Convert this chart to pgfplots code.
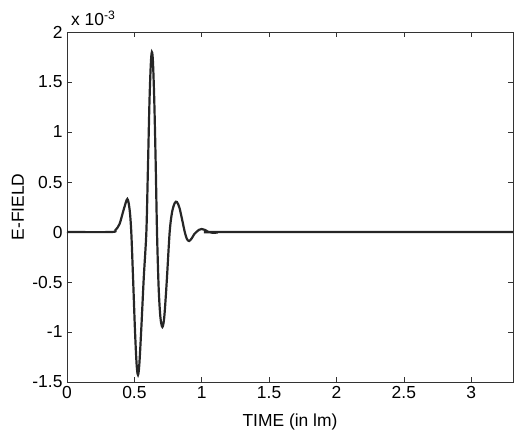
\documentclass[border=0pt]{standalone}
\usepackage{fontspec}
\setmainfont{Liberation Sans}
\usepackage{pgfplots}
\pgfplotsset{compat=1.18}

\begin{document}
\begin{tikzpicture}[font=\fontsize{17.5}{20}\selectfont]
\begin{axis}[
    scale only axis,
    width=446bp, height=350bp,
    xmin=0, xmax=3.31,
    ymin=-1.5, ymax=2,
    xtick={0,0.5,1,1.5,2,2.5,3},
    xticklabels={0,0.5,1,1.5,2,2.5,3},
    ytick={-1.5,-1,-0.5,0,0.5,1,1.5,2},
    yticklabels={-1.5,-1,-0.5,0,0.5,1,1.5,2},
    /pgf/number format/assume math mode=true,
    tick align=inside,
    major tick length=5bp,
    tick style={black!80, line width=0.6bp},
    axis line style={black!80, line width=0.8bp},
    xticklabel style={yshift=-1bp},
    yticklabel style={xshift=-1bp},
    xlabel={TIME (in lm)},
    ylabel={E-FIELD},
    xlabel style={at={(axis description cs:0.5,-0.115)}, anchor=center},
    ylabel style={at={(axis description cs:-0.11,0.5)}, anchor=center},
    clip=true,
]
\addplot[black!85, line width=2.2bp, smooth, tension=0.5] coordinates {
(0,0) (0.33,0) (0.36,0.02) (0.39,0.08) (0.42,0.22) (0.448,0.33)
(0.465,0.22) (0.477,0) (0.49,-0.45) (0.505,-1.0) (0.517,-1.33)
(0.527,-1.43) (0.537,-1.32) (0.552,-0.95) (0.57,-0.45) (0.589,0)
(0.60,0.6) (0.612,1.3) (0.622,1.68) (0.630,1.80) (0.638,1.70)
(0.648,1.3) (0.658,0.7) (0.668,0) (0.68,-0.55) (0.693,-0.85)
(0.708,-0.95) (0.722,-0.85) (0.74,-0.5) (0.762,0) (0.78,0.2)
(0.80,0.29) (0.816,0.30) (0.835,0.24) (0.855,0.12) (0.874,0)
(0.89,-0.07) (0.906,-0.09) (0.925,-0.065) (0.945,-0.02) (0.96,0)
(0.98,0.022) (1.0,0.03) (1.025,0.02) (1.05,0) (1.08,-0.008)
(1.12,-0.005) (1.16,0) (3.333,0)
};
\coordinate (bl) at (rel axis cs:0,0);
\coordinate (tr) at (rel axis cs:1,1);
\coordinate (tl) at (rel axis cs:0,1);
\end{axis}
\node[anchor=south west, inner sep=0pt] at ([shift={(4bp,6bp)}]tl) {x 10\textsuperscript{-3}};
\pgfresetboundingbox
\path ([shift={(-67bp,-50bp)}]bl) rectangle ([shift={(11bp,32bp)}]tr);
\end{tikzpicture}
\end{document}
